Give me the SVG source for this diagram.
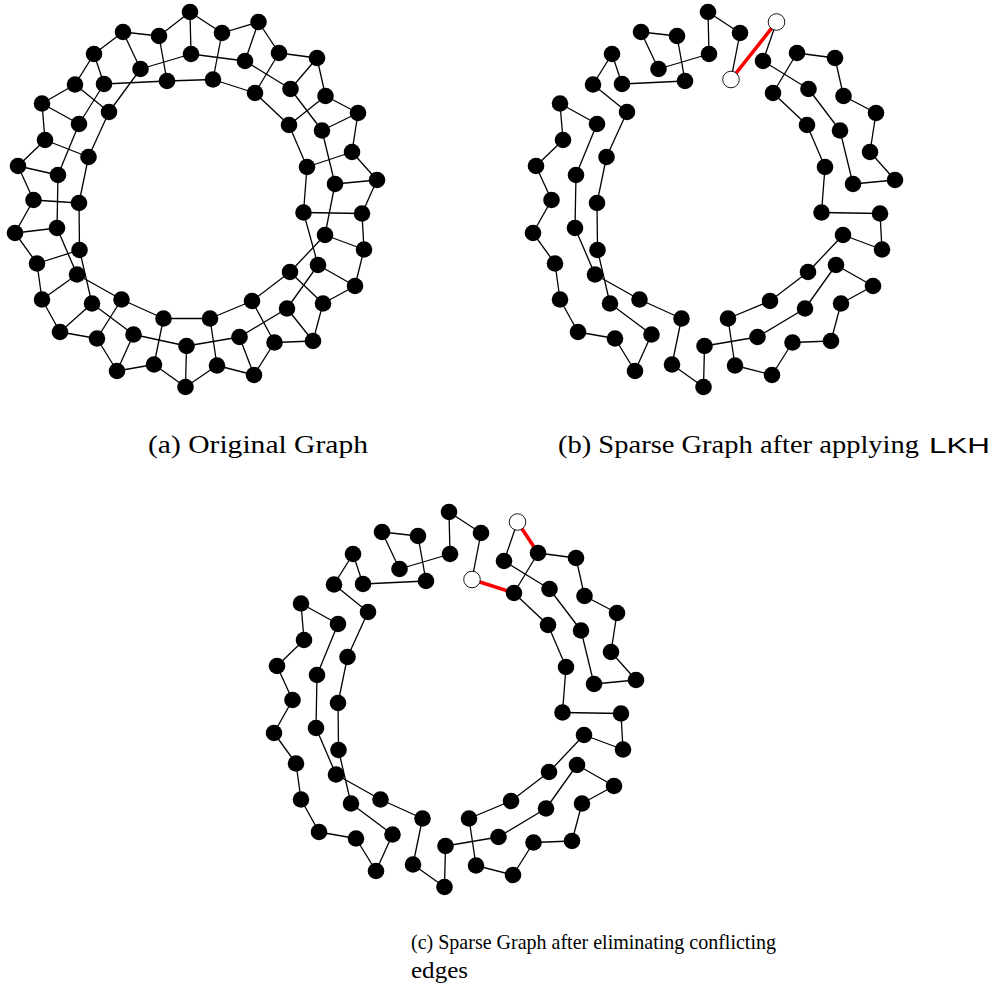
<svg xmlns="http://www.w3.org/2000/svg" width="997" height="993" viewBox="0 0 997 993">
<style>
.e line{stroke:#000;stroke-width:1.3}
.r line{stroke:#f00;stroke-width:3.6}
.n circle{fill:#000}
.w circle{fill:#fff;stroke:#000;stroke-width:0.9}
text{font-family:"Liberation Serif",serif;font-size:26px;fill:#000}
.sans{font-family:"Liberation Sans",sans-serif;font-size:22px}
.cap2{font-size:21px}
.cap3{font-size:23px}
</style>
<rect width="997" height="993" fill="#fff"/>

<!-- (a) Original Graph -->
<g id="graph-a">
<g id="a-edges" class="e">
<line x1="190" y1="12" x2="159" y2="36"/><line x1="190" y1="12" x2="191" y2="54"/><line x1="190" y1="12" x2="222" y2="33"/>
<line x1="123" y1="32" x2="159" y2="36"/><line x1="123" y1="32" x2="94" y2="54"/><line x1="123" y1="32" x2="140.5" y2="69"/>
<line x1="159" y1="36" x2="167" y2="81"/><line x1="191" y1="54" x2="140.5" y2="69"/><line x1="191" y1="54" x2="245" y2="61"/>
<line x1="94" y1="54" x2="75" y2="84.5"/><line x1="94" y1="54" x2="104" y2="84"/><line x1="140.5" y1="69" x2="109" y2="112"/>
<line x1="167" y1="81" x2="213" y2="79.5"/><line x1="167" y1="81" x2="104" y2="84"/><line x1="75" y1="84.5" x2="42" y2="103.5"/>
<line x1="75" y1="84.5" x2="109" y2="112"/><line x1="104" y1="84" x2="79" y2="124"/><line x1="42" y1="103.5" x2="79" y2="124"/>
<line x1="42" y1="103.5" x2="45" y2="140"/><line x1="109" y1="112" x2="88.5" y2="157"/><line x1="79" y1="124" x2="58" y2="175"/>
<line x1="45" y1="140" x2="18" y2="166"/><line x1="45" y1="140" x2="88.5" y2="157"/><line x1="88.5" y1="157" x2="79" y2="203"/>
<line x1="18" y1="166" x2="58" y2="175"/><line x1="18" y1="166" x2="33.5" y2="200"/><line x1="58" y1="175" x2="57" y2="228"/>
<line x1="222" y1="33" x2="258.5" y2="22"/><line x1="222" y1="33" x2="213" y2="79.5"/><line x1="258.5" y1="22" x2="245" y2="61"/>
<line x1="258.5" y1="22" x2="279" y2="53"/><line x1="213" y1="79.5" x2="255" y2="93"/><line x1="245" y1="61" x2="290.5" y2="89"/>
<line x1="279" y1="53" x2="317" y2="58"/><line x1="279" y1="53" x2="255" y2="93"/><line x1="317" y1="58" x2="290.5" y2="89"/>
<line x1="317" y1="58" x2="325.5" y2="96"/><line x1="255" y1="93" x2="289" y2="125"/><line x1="290.5" y1="89" x2="322" y2="130.5"/>
<line x1="325.5" y1="96" x2="289" y2="125"/><line x1="325.5" y1="96" x2="358" y2="113"/><line x1="358" y1="113" x2="322" y2="130.5"/>
<line x1="358" y1="113" x2="352" y2="152"/><line x1="289" y1="125" x2="307" y2="167"/><line x1="322" y1="130.5" x2="335" y2="184"/>
<line x1="352" y1="152" x2="307" y2="167"/><line x1="352" y1="152" x2="377" y2="180"/><line x1="307" y1="167" x2="303.5" y2="212.5"/>
<line x1="335" y1="184" x2="377" y2="180"/><line x1="335" y1="184" x2="325" y2="235"/><line x1="377" y1="180" x2="362" y2="213.5"/>
<line x1="33.5" y1="200" x2="15" y2="233"/><line x1="33.5" y1="200" x2="79" y2="203"/><line x1="79" y1="203" x2="79.5" y2="250"/>
<line x1="15" y1="233" x2="57" y2="228"/><line x1="15" y1="233" x2="37" y2="263.5"/><line x1="57" y1="228" x2="77" y2="274.5"/>
<line x1="79.5" y1="250" x2="37" y2="263.5"/><line x1="79.5" y1="250" x2="92" y2="303.5"/><line x1="37" y1="263.5" x2="42" y2="299.5"/>
<line x1="77" y1="274.5" x2="42" y2="299.5"/><line x1="77" y1="274.5" x2="121.5" y2="299.5"/><line x1="42" y1="299.5" x2="60" y2="332"/>
<line x1="92" y1="303.5" x2="60" y2="332"/><line x1="92" y1="303.5" x2="133.5" y2="334.5"/><line x1="121.5" y1="299.5" x2="97" y2="338.5"/>
<line x1="121.5" y1="299.5" x2="163.5" y2="318.5"/><line x1="163.5" y1="318.5" x2="154" y2="364.5"/><line x1="163.5" y1="318.5" x2="210" y2="318.5"/>
<line x1="60" y1="332" x2="97" y2="338.5"/><line x1="97" y1="338.5" x2="117" y2="371"/><line x1="133.5" y1="334.5" x2="117" y2="371"/>
<line x1="133.5" y1="334.5" x2="186.5" y2="346"/><line x1="186.5" y1="346" x2="185.5" y2="387"/><line x1="186.5" y1="346" x2="239.5" y2="337"/>
<line x1="117" y1="371" x2="154" y2="364.5"/><line x1="154" y1="364.5" x2="185.5" y2="387"/><line x1="185.5" y1="387" x2="217" y2="365.5"/>
<line x1="303.5" y1="212.5" x2="362" y2="213.5"/><line x1="303.5" y1="212.5" x2="318" y2="265"/><line x1="362" y1="213.5" x2="364" y2="249.5"/>
<line x1="325" y1="235" x2="364" y2="249.5"/><line x1="325" y1="235" x2="290" y2="272"/><line x1="364" y1="249.5" x2="355" y2="286"/>
<line x1="290" y1="272" x2="252" y2="301"/><line x1="290" y1="272" x2="323" y2="303.5"/><line x1="318" y1="265" x2="355" y2="286"/>
<line x1="318" y1="265" x2="287" y2="308.5"/><line x1="355" y1="286" x2="323" y2="303.5"/><line x1="252" y1="301" x2="210" y2="318.5"/>
<line x1="252" y1="301" x2="274.5" y2="342.5"/><line x1="287" y1="308.5" x2="239.5" y2="337"/><line x1="287" y1="308.5" x2="313" y2="341"/>
<line x1="323" y1="303.5" x2="313" y2="341"/><line x1="210" y1="318.5" x2="217" y2="365.5"/><line x1="239.5" y1="337" x2="254" y2="375"/>
<line x1="274.5" y1="342.5" x2="313" y2="341"/><line x1="274.5" y1="342.5" x2="254" y2="375"/><line x1="217" y1="365.5" x2="254" y2="375"/>
</g>
<g id="a-nodes">
<g id="a-n1" class="n"><circle cx="190" cy="12" r="8.3"/></g>
<g id="a-n2" class="n"><circle cx="123" cy="32" r="8.3"/></g>
<g id="a-n3" class="n"><circle cx="159" cy="36" r="8.3"/></g>
<g id="a-n4" class="n"><circle cx="191" cy="54" r="8.3"/></g>
<g id="a-n5" class="n"><circle cx="94" cy="54" r="8.3"/></g>
<g id="a-n6" class="n"><circle cx="140.5" cy="69" r="8.3"/></g>
<g id="a-n7" class="n"><circle cx="167" cy="81" r="8.3"/></g>
<g id="a-n8" class="n"><circle cx="75" cy="84.5" r="8.3"/></g>
<g id="a-n9" class="n"><circle cx="104" cy="84" r="8.3"/></g>
<g id="a-n10" class="n"><circle cx="42" cy="103.5" r="8.3"/></g>
<g id="a-n11" class="n"><circle cx="109" cy="112" r="8.3"/></g>
<g id="a-n12" class="n"><circle cx="79" cy="124" r="8.3"/></g>
<g id="a-n13" class="n"><circle cx="45" cy="140" r="8.3"/></g>
<g id="a-n14" class="n"><circle cx="88.5" cy="157" r="8.3"/></g>
<g id="a-n15" class="n"><circle cx="18" cy="166" r="8.3"/></g>
<g id="a-n16" class="n"><circle cx="58" cy="175" r="8.3"/></g>
<g id="a-n17" class="n"><circle cx="222" cy="33" r="8.3"/></g>
<g id="a-n18" class="n"><circle cx="258.5" cy="22" r="8.3"/></g>
<g id="a-n19" class="n"><circle cx="213" cy="79.5" r="8.3"/></g>
<g id="a-n20" class="n"><circle cx="245" cy="61" r="8.3"/></g>
<g id="a-n21" class="n"><circle cx="279" cy="53" r="8.3"/></g>
<g id="a-n22" class="n"><circle cx="317" cy="58" r="8.3"/></g>
<g id="a-n23" class="n"><circle cx="255" cy="93" r="8.3"/></g>
<g id="a-n24" class="n"><circle cx="290.5" cy="89" r="8.3"/></g>
<g id="a-n25" class="n"><circle cx="325.5" cy="96" r="8.3"/></g>
<g id="a-n26" class="n"><circle cx="358" cy="113" r="8.3"/></g>
<g id="a-n27" class="n"><circle cx="289" cy="125" r="8.3"/></g>
<g id="a-n28" class="n"><circle cx="322" cy="130.5" r="8.3"/></g>
<g id="a-n29" class="n"><circle cx="352" cy="152" r="8.3"/></g>
<g id="a-n30" class="n"><circle cx="307" cy="167" r="8.3"/></g>
<g id="a-n31" class="n"><circle cx="335" cy="184" r="8.3"/></g>
<g id="a-n32" class="n"><circle cx="377" cy="180" r="8.3"/></g>
<g id="a-n33" class="n"><circle cx="33.5" cy="200" r="8.3"/></g>
<g id="a-n34" class="n"><circle cx="79" cy="203" r="8.3"/></g>
<g id="a-n35" class="n"><circle cx="15" cy="233" r="8.3"/></g>
<g id="a-n36" class="n"><circle cx="57" cy="228" r="8.3"/></g>
<g id="a-n37" class="n"><circle cx="79.5" cy="250" r="8.3"/></g>
<g id="a-n38" class="n"><circle cx="37" cy="263.5" r="8.3"/></g>
<g id="a-n39" class="n"><circle cx="77" cy="274.5" r="8.3"/></g>
<g id="a-n40" class="n"><circle cx="42" cy="299.5" r="8.3"/></g>
<g id="a-n41" class="n"><circle cx="92" cy="303.5" r="8.3"/></g>
<g id="a-n42" class="n"><circle cx="121.5" cy="299.5" r="8.3"/></g>
<g id="a-n43" class="n"><circle cx="163.5" cy="318.5" r="8.3"/></g>
<g id="a-n44" class="n"><circle cx="60" cy="332" r="8.3"/></g>
<g id="a-n45" class="n"><circle cx="97" cy="338.5" r="8.3"/></g>
<g id="a-n46" class="n"><circle cx="133.5" cy="334.5" r="8.3"/></g>
<g id="a-n47" class="n"><circle cx="186.5" cy="346" r="8.3"/></g>
<g id="a-n48" class="n"><circle cx="117" cy="371" r="8.3"/></g>
<g id="a-n49" class="n"><circle cx="154" cy="364.5" r="8.3"/></g>
<g id="a-n50" class="n"><circle cx="185.5" cy="387" r="8.3"/></g>
<g id="a-n51" class="n"><circle cx="303.5" cy="212.5" r="8.3"/></g>
<g id="a-n52" class="n"><circle cx="362" cy="213.5" r="8.3"/></g>
<g id="a-n53" class="n"><circle cx="325" cy="235" r="8.3"/></g>
<g id="a-n54" class="n"><circle cx="364" cy="249.5" r="8.3"/></g>
<g id="a-n55" class="n"><circle cx="290" cy="272" r="8.3"/></g>
<g id="a-n56" class="n"><circle cx="318" cy="265" r="8.3"/></g>
<g id="a-n57" class="n"><circle cx="355" cy="286" r="8.3"/></g>
<g id="a-n58" class="n"><circle cx="252" cy="301" r="8.3"/></g>
<g id="a-n59" class="n"><circle cx="287" cy="308.5" r="8.3"/></g>
<g id="a-n60" class="n"><circle cx="323" cy="303.5" r="8.3"/></g>
<g id="a-n61" class="n"><circle cx="210" cy="318.5" r="8.3"/></g>
<g id="a-n62" class="n"><circle cx="239.5" cy="337" r="8.3"/></g>
<g id="a-n63" class="n"><circle cx="274.5" cy="342.5" r="8.3"/></g>
<g id="a-n64" class="n"><circle cx="313" cy="341" r="8.3"/></g>
<g id="a-n65" class="n"><circle cx="217" cy="365.5" r="8.3"/></g>
<g id="a-n66" class="n"><circle cx="254" cy="375" r="8.3"/></g>
</g>
</g>

<!-- (b) Sparse Graph after LKH -->
<g id="graph-b" transform="translate(518,0)">
<g id="b-edges" class="e">
<line x1="190" y1="12" x2="191" y2="54"/><line x1="190" y1="12" x2="222" y2="33"/><line x1="123" y1="32" x2="159" y2="36"/>
<line x1="123" y1="32" x2="140.5" y2="69"/><line x1="159" y1="36" x2="167" y2="81"/><line x1="191" y1="54" x2="140.5" y2="69"/>
<line x1="94" y1="54" x2="75" y2="84.5"/><line x1="94" y1="54" x2="104" y2="84"/><line x1="167" y1="81" x2="104" y2="84"/>
<line x1="75" y1="84.5" x2="109" y2="112"/><line x1="42" y1="103.5" x2="79" y2="124"/><line x1="42" y1="103.5" x2="45" y2="140"/>
<line x1="79" y1="124" x2="58" y2="175"/><line x1="109" y1="112" x2="88.5" y2="157"/><line x1="45" y1="140" x2="18" y2="166"/>
<line x1="18" y1="166" x2="33.5" y2="200"/><line x1="58" y1="175" x2="57" y2="228"/><line x1="88.5" y1="157" x2="79" y2="203"/>
<line x1="222" y1="33" x2="213" y2="79.5"/><line x1="258.5" y1="22" x2="245" y2="61"/><line x1="245" y1="61" x2="290.5" y2="89"/>
<line x1="279" y1="53" x2="317" y2="58"/><line x1="279" y1="53" x2="255" y2="93"/><line x1="317" y1="58" x2="325.5" y2="96"/>
<line x1="255" y1="93" x2="289" y2="125"/><line x1="290.5" y1="89" x2="322" y2="130.5"/><line x1="325.5" y1="96" x2="358" y2="113"/>
<line x1="358" y1="113" x2="352" y2="152"/><line x1="289" y1="125" x2="307" y2="167"/><line x1="322" y1="130.5" x2="335" y2="184"/>
<line x1="352" y1="152" x2="377" y2="180"/><line x1="335" y1="184" x2="377" y2="180"/><line x1="307" y1="167" x2="303.5" y2="212.5"/>
<line x1="33.5" y1="200" x2="15" y2="233"/><line x1="79" y1="203" x2="79.5" y2="250"/><line x1="15" y1="233" x2="37" y2="263.5"/>
<line x1="57" y1="228" x2="77" y2="274.5"/><line x1="79.5" y1="250" x2="92" y2="303.5"/><line x1="37" y1="263.5" x2="42" y2="299.5"/>
<line x1="77" y1="274.5" x2="121.5" y2="299.5"/><line x1="42" y1="299.5" x2="60" y2="332"/><line x1="92" y1="303.5" x2="133.5" y2="334.5"/>
<line x1="60" y1="332" x2="97" y2="338.5"/><line x1="97" y1="338.5" x2="117" y2="371"/><line x1="133.5" y1="334.5" x2="117" y2="371"/>
<line x1="121.5" y1="299.5" x2="163.5" y2="318.5"/><line x1="163.5" y1="318.5" x2="154" y2="364.5"/><line x1="154" y1="364.5" x2="185.5" y2="387"/>
<line x1="186.5" y1="346" x2="185.5" y2="387"/><line x1="186.5" y1="346" x2="239.5" y2="337"/>
<line x1="303.5" y1="212.5" x2="362" y2="213.5"/><line x1="362" y1="213.5" x2="364" y2="249.5"/><line x1="325" y1="235" x2="364" y2="249.5"/>
<line x1="325" y1="235" x2="290" y2="272"/><line x1="290" y1="272" x2="252" y2="301"/><line x1="252" y1="301" x2="210" y2="318.5"/>
<line x1="210" y1="318.5" x2="217" y2="365.5"/><line x1="217" y1="365.5" x2="254" y2="375"/><line x1="274.5" y1="342.5" x2="254" y2="375"/>
<line x1="274.5" y1="342.5" x2="313" y2="341"/><line x1="323" y1="303.5" x2="313" y2="341"/><line x1="355" y1="286" x2="323" y2="303.5"/>
<line x1="318" y1="265" x2="355" y2="286"/><line x1="318" y1="265" x2="287" y2="308.5"/><line x1="287" y1="308.5" x2="239.5" y2="337"/>
</g>
<g id="b-red" class="r">
<line x1="258.5" y1="22" x2="213" y2="79.5"/>
</g>
<g id="b-nodes">
<g id="b-n1" class="n"><circle cx="190" cy="12" r="8.3"/></g>
<g id="b-n2" class="n"><circle cx="123" cy="32" r="8.3"/></g>
<g id="b-n3" class="n"><circle cx="159" cy="36" r="8.3"/></g>
<g id="b-n4" class="n"><circle cx="191" cy="54" r="8.3"/></g>
<g id="b-n5" class="n"><circle cx="94" cy="54" r="8.3"/></g>
<g id="b-n6" class="n"><circle cx="140.5" cy="69" r="8.3"/></g>
<g id="b-n7" class="n"><circle cx="167" cy="81" r="8.3"/></g>
<g id="b-n8" class="n"><circle cx="75" cy="84.5" r="8.3"/></g>
<g id="b-n9" class="n"><circle cx="104" cy="84" r="8.3"/></g>
<g id="b-n10" class="n"><circle cx="42" cy="103.5" r="8.3"/></g>
<g id="b-n11" class="n"><circle cx="109" cy="112" r="8.3"/></g>
<g id="b-n12" class="n"><circle cx="79" cy="124" r="8.3"/></g>
<g id="b-n13" class="n"><circle cx="45" cy="140" r="8.3"/></g>
<g id="b-n14" class="n"><circle cx="88.5" cy="157" r="8.3"/></g>
<g id="b-n15" class="n"><circle cx="18" cy="166" r="8.3"/></g>
<g id="b-n16" class="n"><circle cx="58" cy="175" r="8.3"/></g>
<g id="b-n17" class="n"><circle cx="222" cy="33" r="8.3"/></g>
<g id="b-n18" class="w"><circle cx="258.5" cy="22" r="8.3"/></g>
<g id="b-n19" class="w"><circle cx="213" cy="79.5" r="8.3"/></g>
<g id="b-n20" class="n"><circle cx="245" cy="61" r="8.3"/></g>
<g id="b-n21" class="n"><circle cx="279" cy="53" r="8.3"/></g>
<g id="b-n22" class="n"><circle cx="317" cy="58" r="8.3"/></g>
<g id="b-n23" class="n"><circle cx="255" cy="93" r="8.3"/></g>
<g id="b-n24" class="n"><circle cx="290.5" cy="89" r="8.3"/></g>
<g id="b-n25" class="n"><circle cx="325.5" cy="96" r="8.3"/></g>
<g id="b-n26" class="n"><circle cx="358" cy="113" r="8.3"/></g>
<g id="b-n27" class="n"><circle cx="289" cy="125" r="8.3"/></g>
<g id="b-n28" class="n"><circle cx="322" cy="130.5" r="8.3"/></g>
<g id="b-n29" class="n"><circle cx="352" cy="152" r="8.3"/></g>
<g id="b-n30" class="n"><circle cx="307" cy="167" r="8.3"/></g>
<g id="b-n31" class="n"><circle cx="335" cy="184" r="8.3"/></g>
<g id="b-n32" class="n"><circle cx="377" cy="180" r="8.3"/></g>
<g id="b-n33" class="n"><circle cx="33.5" cy="200" r="8.3"/></g>
<g id="b-n34" class="n"><circle cx="79" cy="203" r="8.3"/></g>
<g id="b-n35" class="n"><circle cx="15" cy="233" r="8.3"/></g>
<g id="b-n36" class="n"><circle cx="57" cy="228" r="8.3"/></g>
<g id="b-n37" class="n"><circle cx="79.5" cy="250" r="8.3"/></g>
<g id="b-n38" class="n"><circle cx="37" cy="263.5" r="8.3"/></g>
<g id="b-n39" class="n"><circle cx="77" cy="274.5" r="8.3"/></g>
<g id="b-n40" class="n"><circle cx="42" cy="299.5" r="8.3"/></g>
<g id="b-n41" class="n"><circle cx="92" cy="303.5" r="8.3"/></g>
<g id="b-n42" class="n"><circle cx="121.5" cy="299.5" r="8.3"/></g>
<g id="b-n43" class="n"><circle cx="163.5" cy="318.5" r="8.3"/></g>
<g id="b-n44" class="n"><circle cx="60" cy="332" r="8.3"/></g>
<g id="b-n45" class="n"><circle cx="97" cy="338.5" r="8.3"/></g>
<g id="b-n46" class="n"><circle cx="133.5" cy="334.5" r="8.3"/></g>
<g id="b-n47" class="n"><circle cx="186.5" cy="346" r="8.3"/></g>
<g id="b-n48" class="n"><circle cx="117" cy="371" r="8.3"/></g>
<g id="b-n49" class="n"><circle cx="154" cy="364.5" r="8.3"/></g>
<g id="b-n50" class="n"><circle cx="185.5" cy="387" r="8.3"/></g>
<g id="b-n51" class="n"><circle cx="303.5" cy="212.5" r="8.3"/></g>
<g id="b-n52" class="n"><circle cx="362" cy="213.5" r="8.3"/></g>
<g id="b-n53" class="n"><circle cx="325" cy="235" r="8.3"/></g>
<g id="b-n54" class="n"><circle cx="364" cy="249.5" r="8.3"/></g>
<g id="b-n55" class="n"><circle cx="290" cy="272" r="8.3"/></g>
<g id="b-n56" class="n"><circle cx="318" cy="265" r="8.3"/></g>
<g id="b-n57" class="n"><circle cx="355" cy="286" r="8.3"/></g>
<g id="b-n58" class="n"><circle cx="252" cy="301" r="8.3"/></g>
<g id="b-n59" class="n"><circle cx="287" cy="308.5" r="8.3"/></g>
<g id="b-n60" class="n"><circle cx="323" cy="303.5" r="8.3"/></g>
<g id="b-n61" class="n"><circle cx="210" cy="318.5" r="8.3"/></g>
<g id="b-n62" class="n"><circle cx="239.5" cy="337" r="8.3"/></g>
<g id="b-n63" class="n"><circle cx="274.5" cy="342.5" r="8.3"/></g>
<g id="b-n64" class="n"><circle cx="313" cy="341" r="8.3"/></g>
<g id="b-n65" class="n"><circle cx="217" cy="365.5" r="8.3"/></g>
<g id="b-n66" class="n"><circle cx="254" cy="375" r="8.3"/></g>
</g>
</g>

<!-- (c) Sparse Graph after eliminating conflicting edges -->
<g id="graph-c" transform="translate(259,500)">
<g id="c-edges" class="e">
<line x1="190" y1="12" x2="191" y2="54"/><line x1="190" y1="12" x2="222" y2="33"/><line x1="123" y1="32" x2="159" y2="36"/>
<line x1="123" y1="32" x2="140.5" y2="69"/><line x1="159" y1="36" x2="167" y2="81"/><line x1="191" y1="54" x2="140.5" y2="69"/>
<line x1="94" y1="54" x2="75" y2="84.5"/><line x1="94" y1="54" x2="104" y2="84"/><line x1="167" y1="81" x2="104" y2="84"/>
<line x1="75" y1="84.5" x2="109" y2="112"/><line x1="42" y1="103.5" x2="79" y2="124"/><line x1="42" y1="103.5" x2="45" y2="140"/>
<line x1="79" y1="124" x2="58" y2="175"/><line x1="109" y1="112" x2="88.5" y2="157"/><line x1="45" y1="140" x2="18" y2="166"/>
<line x1="18" y1="166" x2="33.5" y2="200"/><line x1="58" y1="175" x2="57" y2="228"/><line x1="88.5" y1="157" x2="79" y2="203"/>
<line x1="222" y1="33" x2="213" y2="79.5"/><line x1="258.5" y1="22" x2="245" y2="61"/><line x1="245" y1="61" x2="290.5" y2="89"/>
<line x1="279" y1="53" x2="317" y2="58"/><line x1="279" y1="53" x2="255" y2="93"/><line x1="317" y1="58" x2="325.5" y2="96"/>
<line x1="255" y1="93" x2="289" y2="125"/><line x1="290.5" y1="89" x2="322" y2="130.5"/><line x1="325.5" y1="96" x2="358" y2="113"/>
<line x1="358" y1="113" x2="352" y2="152"/><line x1="289" y1="125" x2="307" y2="167"/><line x1="322" y1="130.5" x2="335" y2="184"/>
<line x1="352" y1="152" x2="377" y2="180"/><line x1="335" y1="184" x2="377" y2="180"/><line x1="307" y1="167" x2="303.5" y2="212.5"/>
<line x1="33.5" y1="200" x2="15" y2="233"/><line x1="79" y1="203" x2="79.5" y2="250"/><line x1="15" y1="233" x2="37" y2="263.5"/>
<line x1="57" y1="228" x2="77" y2="274.5"/><line x1="79.5" y1="250" x2="92" y2="303.5"/><line x1="37" y1="263.5" x2="42" y2="299.5"/>
<line x1="77" y1="274.5" x2="121.5" y2="299.5"/><line x1="42" y1="299.5" x2="60" y2="332"/><line x1="92" y1="303.5" x2="133.5" y2="334.5"/>
<line x1="60" y1="332" x2="97" y2="338.5"/><line x1="97" y1="338.5" x2="117" y2="371"/><line x1="133.5" y1="334.5" x2="117" y2="371"/>
<line x1="121.5" y1="299.5" x2="163.5" y2="318.5"/><line x1="163.5" y1="318.5" x2="154" y2="364.5"/><line x1="154" y1="364.5" x2="185.5" y2="387"/>
<line x1="186.5" y1="346" x2="185.5" y2="387"/><line x1="186.5" y1="346" x2="239.5" y2="337"/>
<line x1="303.5" y1="212.5" x2="362" y2="213.5"/><line x1="362" y1="213.5" x2="364" y2="249.5"/><line x1="325" y1="235" x2="364" y2="249.5"/>
<line x1="325" y1="235" x2="290" y2="272"/><line x1="290" y1="272" x2="252" y2="301"/><line x1="252" y1="301" x2="210" y2="318.5"/>
<line x1="210" y1="318.5" x2="217" y2="365.5"/><line x1="217" y1="365.5" x2="254" y2="375"/><line x1="274.5" y1="342.5" x2="254" y2="375"/>
<line x1="274.5" y1="342.5" x2="313" y2="341"/><line x1="323" y1="303.5" x2="313" y2="341"/><line x1="355" y1="286" x2="323" y2="303.5"/>
<line x1="318" y1="265" x2="355" y2="286"/><line x1="318" y1="265" x2="287" y2="308.5"/><line x1="287" y1="308.5" x2="239.5" y2="337"/>
</g>
<g id="c-red" class="r">
<line x1="258.5" y1="22" x2="279" y2="53"/>
<line x1="213" y1="79.5" x2="255" y2="93"/>
</g>
<g id="c-nodes">
<g id="c-n1" class="n"><circle cx="190" cy="12" r="8.3"/></g>
<g id="c-n2" class="n"><circle cx="123" cy="32" r="8.3"/></g>
<g id="c-n3" class="n"><circle cx="159" cy="36" r="8.3"/></g>
<g id="c-n4" class="n"><circle cx="191" cy="54" r="8.3"/></g>
<g id="c-n5" class="n"><circle cx="94" cy="54" r="8.3"/></g>
<g id="c-n6" class="n"><circle cx="140.5" cy="69" r="8.3"/></g>
<g id="c-n7" class="n"><circle cx="167" cy="81" r="8.3"/></g>
<g id="c-n8" class="n"><circle cx="75" cy="84.5" r="8.3"/></g>
<g id="c-n9" class="n"><circle cx="104" cy="84" r="8.3"/></g>
<g id="c-n10" class="n"><circle cx="42" cy="103.5" r="8.3"/></g>
<g id="c-n11" class="n"><circle cx="109" cy="112" r="8.3"/></g>
<g id="c-n12" class="n"><circle cx="79" cy="124" r="8.3"/></g>
<g id="c-n13" class="n"><circle cx="45" cy="140" r="8.3"/></g>
<g id="c-n14" class="n"><circle cx="88.5" cy="157" r="8.3"/></g>
<g id="c-n15" class="n"><circle cx="18" cy="166" r="8.3"/></g>
<g id="c-n16" class="n"><circle cx="58" cy="175" r="8.3"/></g>
<g id="c-n17" class="n"><circle cx="222" cy="33" r="8.3"/></g>
<g id="c-n18" class="w"><circle cx="258.5" cy="22" r="8.3"/></g>
<g id="c-n19" class="w"><circle cx="213" cy="79.5" r="8.3"/></g>
<g id="c-n20" class="n"><circle cx="245" cy="61" r="8.3"/></g>
<g id="c-n21" class="n"><circle cx="279" cy="53" r="8.3"/></g>
<g id="c-n22" class="n"><circle cx="317" cy="58" r="8.3"/></g>
<g id="c-n23" class="n"><circle cx="255" cy="93" r="8.3"/></g>
<g id="c-n24" class="n"><circle cx="290.5" cy="89" r="8.3"/></g>
<g id="c-n25" class="n"><circle cx="325.5" cy="96" r="8.3"/></g>
<g id="c-n26" class="n"><circle cx="358" cy="113" r="8.3"/></g>
<g id="c-n27" class="n"><circle cx="289" cy="125" r="8.3"/></g>
<g id="c-n28" class="n"><circle cx="322" cy="130.5" r="8.3"/></g>
<g id="c-n29" class="n"><circle cx="352" cy="152" r="8.3"/></g>
<g id="c-n30" class="n"><circle cx="307" cy="167" r="8.3"/></g>
<g id="c-n31" class="n"><circle cx="335" cy="184" r="8.3"/></g>
<g id="c-n32" class="n"><circle cx="377" cy="180" r="8.3"/></g>
<g id="c-n33" class="n"><circle cx="33.5" cy="200" r="8.3"/></g>
<g id="c-n34" class="n"><circle cx="79" cy="203" r="8.3"/></g>
<g id="c-n35" class="n"><circle cx="15" cy="233" r="8.3"/></g>
<g id="c-n36" class="n"><circle cx="57" cy="228" r="8.3"/></g>
<g id="c-n37" class="n"><circle cx="79.5" cy="250" r="8.3"/></g>
<g id="c-n38" class="n"><circle cx="37" cy="263.5" r="8.3"/></g>
<g id="c-n39" class="n"><circle cx="77" cy="274.5" r="8.3"/></g>
<g id="c-n40" class="n"><circle cx="42" cy="299.5" r="8.3"/></g>
<g id="c-n41" class="n"><circle cx="92" cy="303.5" r="8.3"/></g>
<g id="c-n42" class="n"><circle cx="121.5" cy="299.5" r="8.3"/></g>
<g id="c-n43" class="n"><circle cx="163.5" cy="318.5" r="8.3"/></g>
<g id="c-n44" class="n"><circle cx="60" cy="332" r="8.3"/></g>
<g id="c-n45" class="n"><circle cx="97" cy="338.5" r="8.3"/></g>
<g id="c-n46" class="n"><circle cx="133.5" cy="334.5" r="8.3"/></g>
<g id="c-n47" class="n"><circle cx="186.5" cy="346" r="8.3"/></g>
<g id="c-n48" class="n"><circle cx="117" cy="371" r="8.3"/></g>
<g id="c-n49" class="n"><circle cx="154" cy="364.5" r="8.3"/></g>
<g id="c-n50" class="n"><circle cx="185.5" cy="387" r="8.3"/></g>
<g id="c-n51" class="n"><circle cx="303.5" cy="212.5" r="8.3"/></g>
<g id="c-n52" class="n"><circle cx="362" cy="213.5" r="8.3"/></g>
<g id="c-n53" class="n"><circle cx="325" cy="235" r="8.3"/></g>
<g id="c-n54" class="n"><circle cx="364" cy="249.5" r="8.3"/></g>
<g id="c-n55" class="n"><circle cx="290" cy="272" r="8.3"/></g>
<g id="c-n56" class="n"><circle cx="318" cy="265" r="8.3"/></g>
<g id="c-n57" class="n"><circle cx="355" cy="286" r="8.3"/></g>
<g id="c-n58" class="n"><circle cx="252" cy="301" r="8.3"/></g>
<g id="c-n59" class="n"><circle cx="287" cy="308.5" r="8.3"/></g>
<g id="c-n60" class="n"><circle cx="323" cy="303.5" r="8.3"/></g>
<g id="c-n61" class="n"><circle cx="210" cy="318.5" r="8.3"/></g>
<g id="c-n62" class="n"><circle cx="239.5" cy="337" r="8.3"/></g>
<g id="c-n63" class="n"><circle cx="274.5" cy="342.5" r="8.3"/></g>
<g id="c-n64" class="n"><circle cx="313" cy="341" r="8.3"/></g>
<g id="c-n65" class="n"><circle cx="217" cy="365.5" r="8.3"/></g>
<g id="c-n66" class="n"><circle cx="254" cy="375" r="8.3"/></g>
</g>
</g>

<g id="captions">
<text x="148" y="453" textLength="220" lengthAdjust="spacingAndGlyphs">(a) Original Graph</text>
<text x="558" y="453"><tspan textLength="361" lengthAdjust="spacingAndGlyphs">(b) Sparse Graph after applying</tspan><tspan class="sans" x="929" textLength="61" lengthAdjust="spacingAndGlyphs">LKH</tspan></text>
<text class="cap2" x="411" y="949" textLength="365" lengthAdjust="spacingAndGlyphs">(c) Sparse Graph after eliminating conflicting</text>
<text class="cap3" x="411" y="978" textLength="57" lengthAdjust="spacingAndGlyphs">edges</text>
</g>
</svg>
